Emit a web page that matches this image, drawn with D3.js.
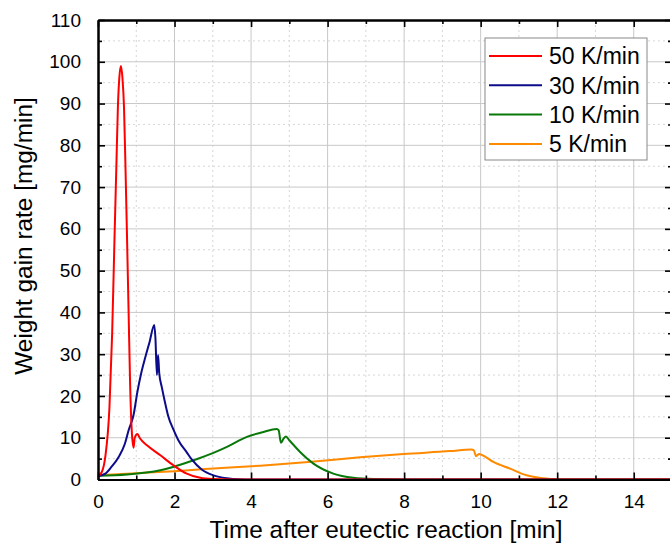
<!DOCTYPE html>
<html>
<head>
<meta charset="utf-8">
<script src="https://cdn.jsdelivr.net/npm/d3@7"></script>
<style>
  html, body { margin: 0; padding: 0; background: #fff; overflow: hidden; }
  svg { display: block; font-family: "Liberation Sans", Arial, sans-serif; }
  .grid-major { stroke: #c8c8c8; stroke-width: 1; }
  .grid-minor { stroke: #d6d6d6; stroke-width: 1; stroke-dasharray: 2 3; }
  .series { fill: none; stroke-width: 2; stroke-linejoin: round; }
</style>
</head>
<body>
<svg id="chart" width="670" height="547"></svg>
<script>
  // --- 0. Data ---
  const seriesNames = ["50 K/min", "30 K/min", "10 K/min", "5 K/min"];
  const seriesColors = ["#ff0000", "#0c0c8a", "#087808", "#ff8a00"];

  // [time (min), weight gain rate (mg/min)]
  const rate50 = [
    [0, 0.8], [0.1, 1.8], [0.19, 5.4], [0.3, 17.4], [0.37, 35], [0.43, 57.3],
    [0.48, 75], [0.52, 89.2], [0.56, 96.5], [0.6, 99], [0.64, 96], [0.68, 89],
    [0.72, 74], [0.76, 57.3], [0.8, 40], [0.84, 22.5], [0.88, 12], [0.93, 7.6],
    [0.96, 10], [1.03, 10.9], [1.1, 9.8], [1.28, 8.2], [1.63, 5.8], [1.97, 3.4],
    [2.32, 1.4], [2.67, 0.4], [3.0, 0.1], [3.5, 0], [15, 0]
  ];
  const rate30 = [
    [0, 0.8], [0.19, 1.4], [0.35, 3], [0.54, 5.4], [0.7, 8.5], [0.8, 11.8],
    [0.93, 15.5], [1.03, 21], [1.13, 25.5], [1.24, 29.4], [1.35, 33], [1.47, 37],
    [1.5, 34], [1.54, 25], [1.57, 29.8], [1.6, 25.5], [1.67, 22], [1.75, 18.5],
    [1.84, 15], [1.97, 12], [2.1, 9.4], [2.32, 6.5], [2.45, 4.8], [2.71, 2.4],
    [3.02, 1.0], [3.37, 0.3], [3.7, 0.05], [4, 0], [15, 0]
  ];
  const rate10 = [
    [0, 0.9], [0.76, 1.2], [1.63, 2.2], [2.5, 4.6], [3.0, 6.3], [3.37, 7.8],
    [3.89, 10.2], [4.3, 11.3], [4.67, 12.1], [4.72, 11.8], [4.78, 8.8],
    [4.85, 9.8], [4.91, 10.3], [5.0, 9.4], [5.28, 6.6], [5.63, 3.8],
    [6.15, 1.4], [6.67, 0.4], [7.2, 0.1], [8, 0], [15, 0]
  ];
  const rate5 = [
    [0, 1.0], [1, 1.5], [2.0, 2.0], [2.8, 2.5], [4.24, 3.3], [5.5, 4.2],
    [6.85, 5.3], [7.98, 6.1], [9.2, 6.8], [9.76, 7.2], [9.82, 7.0], [9.88, 5.6],
    [9.96, 6.1], [10.05, 5.8], [10.33, 4.2], [10.77, 2.6], [11.2, 1.0],
    [11.64, 0.3], [12, 0.05], [12.5, 0], [15, 0]
  ];
  const seriesData = [rate50, rate30, rate10, rate5];

  const xMajorTicks = [0, 2, 4, 6, 8, 10, 12, 14];
  const xMinorTicks = [1, 3, 5, 7, 9, 11, 13, 15];
  const yMajorTicks = [0, 10, 20, 30, 40, 50, 60, 70, 80, 90, 100, 110];
  const yMinorTicks = [5, 15, 25, 35, 45, 55, 65, 75, 85, 95, 105];

  // --- 1. Dimensions & scales ---
  const margin = { top: 20, left: 98, right: 672, bottom: 479.5 };
  const x = d3.scaleLinear().domain([0, 15]).range([margin.left, margin.right]);
  const y = d3.scaleLinear().domain([0, 110]).range([margin.bottom, margin.top]);

  const svg = d3.select("#chart");

  // --- 2. Grid ---
  const grid = svg.append("g");
  grid.selectAll(".gx-minor").data(xMinorTicks).enter().append("line")
    .attr("class", "grid-minor")
    .attr("x1", (d) => x(d)).attr("x2", (d) => x(d))
    .attr("y1", margin.top).attr("y2", margin.bottom);
  grid.selectAll(".gy-minor").data(yMinorTicks).enter().append("line")
    .attr("class", "grid-minor")
    .attr("x1", margin.left).attr("x2", margin.right)
    .attr("y1", (d) => y(d)).attr("y2", (d) => y(d));
  grid.selectAll(".gx-major").data(xMajorTicks.slice(1)).enter().append("line")
    .attr("class", "grid-major")
    .attr("x1", (d) => x(d)).attr("x2", (d) => x(d))
    .attr("y1", margin.top).attr("y2", margin.bottom);
  grid.selectAll(".gy-major").data(yMajorTicks.slice(1, -1)).enter().append("line")
    .attr("class", "grid-major")
    .attr("x1", margin.left).attr("x2", margin.right)
    .attr("y1", (d) => y(d)).attr("y2", (d) => y(d));

  // --- 3. Series (drawn back to front) ---
  const line = d3.line()
    .x((d) => x(d[0]))
    .y((d) => y(d[1]))
    .curve(d3.curveMonotoneX);

  const order = [3, 2, 1, 0];
  order.forEach((i) => {
    svg.append("path")
      .datum(seriesData[i])
      .attr("class", "series")
      .attr("stroke", seriesColors[i])
      .attr("d", line);
  });

  // --- 4. Axes (ticks pointing inward, on all four sides) ---
  function frameAxis(axisGen, transform) {
    const g = svg.append("g").attr("transform", transform).call(axisGen);
    g.select(".domain").attr("stroke", "#000").attr("stroke-width", 2);
    g.selectAll(".tick line").attr("stroke", "#000").attr("stroke-width", 1.6);
    return g;
  }
  const fontSize = "19px";

  // bottom
  frameAxis(d3.axisBottom(x).tickValues(xMinorTicks).tickSize(-4).tickFormat("").tickSizeOuter(0),
    `translate(0,${margin.bottom})`);
  const bottom = frameAxis(d3.axisBottom(x).tickValues(xMajorTicks).tickSize(-7).tickSizeOuter(0)
    .tickPadding(15).tickFormat(d3.format("d")), `translate(0,${margin.bottom})`);
  bottom.selectAll("text").attr("font-size", fontSize).attr("fill", "#000")
    .attr("font-family", "Liberation Sans, Arial, sans-serif");

  // top
  frameAxis(d3.axisTop(x).tickValues(xMinorTicks).tickSize(-4).tickFormat("").tickSizeOuter(0),
    `translate(0,${margin.top})`);
  frameAxis(d3.axisTop(x).tickValues(xMajorTicks).tickSize(-7).tickFormat("").tickSizeOuter(0),
    `translate(0,${margin.top})`);

  // left
  frameAxis(d3.axisLeft(y).tickValues(yMinorTicks).tickSize(-4).tickFormat("").tickSizeOuter(0),
    `translate(${margin.left},0)`);
  const left = frameAxis(d3.axisLeft(y).tickValues(yMajorTicks).tickSize(-7).tickSizeOuter(0)
    .tickPadding(17).tickFormat(d3.format("d")), `translate(${margin.left},0)`);
  left.selectAll("text").attr("font-size", fontSize).attr("fill", "#000")
    .attr("font-family", "Liberation Sans, Arial, sans-serif");

  // right
  frameAxis(d3.axisRight(y).tickValues(yMinorTicks).tickSize(-4).tickFormat("").tickSizeOuter(0),
    `translate(${margin.right},0)`);
  frameAxis(d3.axisRight(y).tickValues(yMajorTicks).tickSize(-7).tickFormat("").tickSizeOuter(0),
    `translate(${margin.right},0)`);

  // --- 5. Axis titles ---
  svg.append("text")
    .attr("x", 386).attr("y", 538)
    .attr("text-anchor", "middle")
    .attr("font-size", "24.4px")
    .text("Time after eutectic reaction [min]");

  svg.append("text")
    .attr("transform", "translate(32,236) rotate(-90)")
    .attr("text-anchor", "middle")
    .attr("font-size", "24.4px")
    .text("Weight gain rate [mg/min]");

  // --- 6. Legend ---
  const legend = svg.append("g").attr("transform", "translate(485,38)");
  legend.append("rect")
    .attr("width", 162).attr("height", 122)
    .attr("fill", "#fff").attr("stroke", "#888").attr("stroke-width", 1);

  const rows = legend.selectAll(".legend-row")
    .data(seriesNames)
    .enter()
    .append("g")
    .attr("transform", (d, i) => `translate(0,${18 + i * 29.3})`);
  rows.append("line")
    .attr("x1", 4).attr("x2", 57)
    .attr("stroke", (d, i) => seriesColors[i])
    .attr("stroke-width", 2);
  rows.append("text")
    .attr("x", 64).attr("dy", "0.36em")
    .attr("font-size", "23px")
    .text((d) => d);
</script>
</body>
</html>
